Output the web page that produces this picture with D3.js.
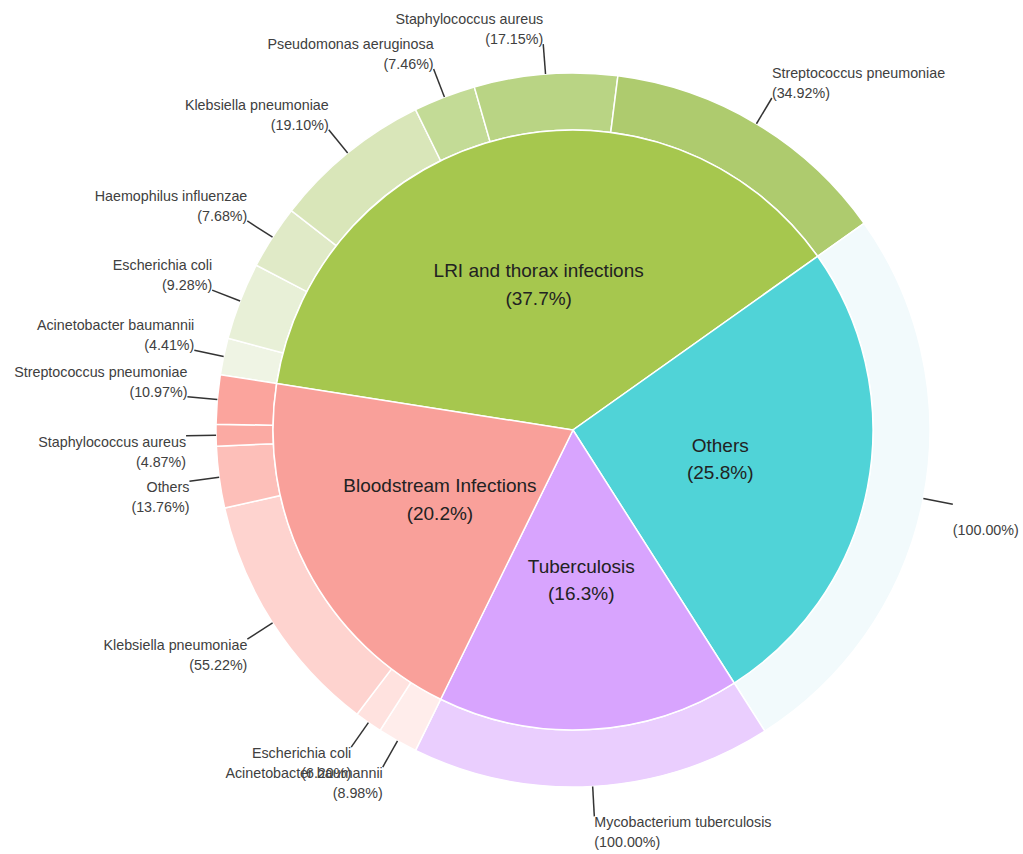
<!DOCTYPE html>
<html>
<head>
<meta charset="utf-8">
<script src="https://cdn.jsdelivr.net/npm/d3@7"></script>
<style>
html, body { margin: 0; padding: 0; background: #ffffff; }
svg { display: block; font-family: Arial, "Liberation Sans", sans-serif; }
</style>
</head>
<body>
<svg id="chart" width="1023" height="854"></svg>
<script>
// ---------- data ----------
const categories = ["LRI and thorax infections", "Others", "Tuberculosis", "Bloodstream Infections"];
const categoryShares = [37.7, 25.8, 16.3, 20.2];
const categoryColors = ["#a6c74e", "#50d3d7", "#d8a4fe", "#f9a09a"];

const lriPathogens = ["Acinetobacter baumannii", "Escherichia coli", "Haemophilus influenzae", "Klebsiella pneumoniae", "Pseudomonas aeruginosa", "Staphylococcus aureus", "Streptococcus pneumoniae"];
const lriShares = [4.41, 9.28, 7.68, 19.10, 7.46, 17.15, 34.92];
const lriColors = ["#eff4e4", "#e8f0d7", "#e0eac7", "#d9e6b9", "#c3db96", "#b9d484", "#aecb6e"];

const othersPathogens = [""];
const othersShares = [100.00];
const othersColors = ["#f2fafc"];

const tbPathogens = ["Mycobacterium tuberculosis"];
const tbShares = [100.00];
const tbColors = ["#eacefe"];

const bsPathogens = ["Acinetobacter baumannii", "Escherichia coli", "Klebsiella pneumoniae", "Others", "Staphylococcus aureus", "Streptococcus pneumoniae"];
const bsShares = [8.98, 6.20, 55.22, 13.76, 4.87, 10.97];
const bsColors = ["#ffedeb", "#ffe2df", "#fed3cf", "#fdbfb9", "#fbaaa3", "#fba49d"];

const childGroups = [
  { names: lriPathogens, shares: lriShares, colors: lriColors },
  { names: othersPathogens, shares: othersShares, colors: othersColors },
  { names: tbPathogens, shares: tbShares, colors: tbColors },
  { names: bsPathogens, shares: bsShares, colors: bsColors }
];

// ---------- layout ----------
const cx = 573, cy = 430;
const rInner = 300, rOuter = 357, rLine = 387;
const startAngle = -81.1 * Math.PI / 180;

const svg = d3.select("#chart");
const g = svg.append("g").attr("transform", `translate(${cx},${cy})`);

const pie = d3.pie().sort(null).value(d => d)
  .startAngle(startAngle).endAngle(startAngle + 2 * Math.PI);
const innerArcs = pie(categoryShares);

const innerArc = d3.arc().innerRadius(0).outerRadius(rInner);
const outerArc = d3.arc().innerRadius(rInner).outerRadius(rOuter);

// outer ring
const outerData = [];
innerArcs.forEach((pa, i) => {
  const grp = childGroups[i];
  const sub = d3.pie().sort(null).value(d => d)
    .startAngle(pa.startAngle).endAngle(pa.endAngle)(grp.shares);
  sub.forEach((a, j) => {
    outerData.push({ arc: a, name: grp.names[j], share: grp.shares[j], color: grp.colors[j] });
  });
});

g.selectAll("path.outer").data(outerData).enter().append("path")
  .attr("class", "outer")
  .attr("d", d => outerArc(d.arc))
  .attr("fill", d => d.color)
  .attr("stroke", "#ffffff")
  .attr("stroke-width", 1.5);

g.selectAll("path.inner").data(innerArcs).enter().append("path")
  .attr("class", "inner")
  .attr("d", innerArc)
  .attr("fill", (d, i) => categoryColors[i])
  .attr("stroke", "#ffffff")
  .attr("stroke-width", 1.5);

// inner labels
const innerLabelArc = d3.arc().innerRadius(0).outerRadius(rInner);
innerArcs.forEach((a, i) => {
  const [x, y] = innerLabelArc.centroid(a);
  const t = g.append("text")
    .attr("text-anchor", "middle")
    .attr("font-size", 19)
    .attr("fill", "#222222");
  t.append("tspan").attr("x", x).attr("y", y - 7).text(categories[i]);
  t.append("tspan").attr("x", x).attr("y", y + 20.5).text(`(${categoryShares[i].toFixed(1)}%)`);
});

// outer labels with leader lines
const pt = (ang, r) => [r * Math.sin(ang), -r * Math.cos(ang)];
outerData.forEach(d => {
  const mid = (d.arc.startAngle + d.arc.endAngle) / 2;
  const [x1, y1] = pt(mid, rOuter);
  const [x2, y2] = pt(mid, rLine);
  g.append("line")
    .attr("x1", x1).attr("y1", y1).attr("x2", x2).attr("y2", y2)
    .attr("stroke", "#333333").attr("stroke-width", 1.5);
  let norm = mid % (2 * Math.PI);
  if (norm < 0) norm += 2 * Math.PI;
  const anchor = norm < Math.PI ? "start" : "end";
  const upper = Math.cos(mid) >= 0;
  const nameY = upper ? y2 - 20 : y2 + 11;
  const pctY = upper ? y2 : y2 + 31;
  const t = g.append("text")
    .attr("text-anchor", anchor)
    .attr("font-size", 14.3)
    .attr("fill", "#404040");
  t.append("tspan").attr("x", x2).attr("y", nameY).text(d.name);
  t.append("tspan").attr("x", x2).attr("y", pctY).text(`(${d.share.toFixed(2)}%)`);
});
</script>
</body>
</html>
